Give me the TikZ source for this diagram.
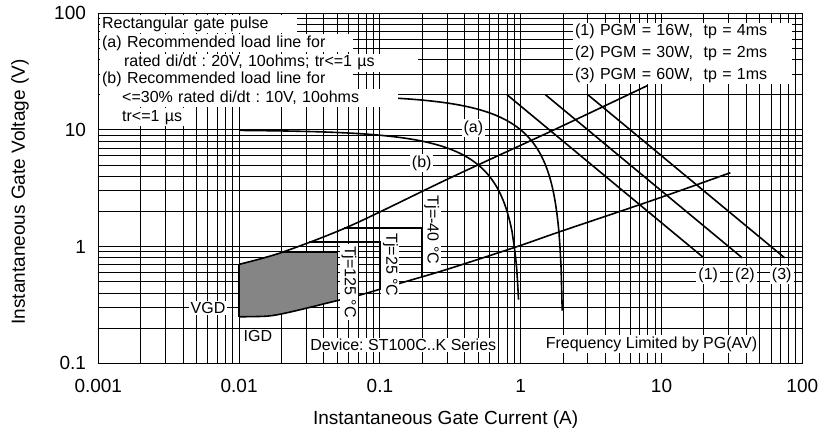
\documentclass[tikz,border=0pt]{standalone}
\usepackage{fontspec}
\setmainfont{Liberation Sans}
\frenchspacing

\tikzset{
	gridline/.style = {line width=0.9pt},
	curve/.style = {line width=1.6pt},
	boxtext/.style = {fill=white, inner xsep=2pt, inner ysep=1.5pt, font=\fontsize{16}{19}\selectfont},
	rowtext/.style = {boxtext, anchor=west, align=left, text height=11.5pt, text depth=3.5pt},
	ticktext/.style = {font=\fontsize{19}{22}\selectfont}
}

\begin{document}
\begin{tikzpicture}[x=140.8pt, y=116.7pt]
	\useasboundingbox (-0.698,-0.606) rectangle (5.147,3.113);
	\foreach \k in {0,...,4}
		\foreach \m in {1,...,9}
			\draw[gridline] ({\k+log10(\m)},0) -- ({\k+log10(\m)},3);
	\foreach \k in {0,...,2}
		\foreach \m in {1,...,9}
			\draw[gridline] (0,{\k+log10(\m)}) -- (5,{\k+log10(\m)});
	\fill[black!48] plot[smooth] coordinates {(1,0.399) (1.207,0.405) (1.373,0.442) (1.699,0.538)} -- (1.699,0.95) -- (1.303,0.95) -- (1,0.848) -- cycle;
	\draw[curve] plot[domain=1:2.989, samples=300] (\x,{log10(1-10^(\x-3))+2});
	\draw[curve] plot[domain=1:3.2956, samples=300] (\x,{log10(2-10^(\x-3))+2});
	\foreach \p in {16,30,60}
		\draw[curve] ({log10(\p/20)+3},{log10(20)+1}) -- ({log10(\p/0.8)+3},{log10(0.8)+1});
	\draw[curve] plot[smooth] coordinates {(1,0.848) (1.303,0.95) (1.788,1.177) (2.498,1.588) (3.220,1.991) (3.901,2.380)};
	\draw[curve] plot[smooth] coordinates {(1,0.399) (1.207,0.405) (1.373,0.442) (1.699,0.538) (1.859,0.585) (2.143,0.686) (2.474,0.804) (2.972,0.999) (3.279,1.128) (3.942,1.399) (4.489,1.633)};
	\draw[curve] (1,0.399) -- (1,0.848);
	\draw[curve] (1.303,0.95) -- (1.699,0.95) -- (1.699,0.538);
	\draw[curve] (1.50,1.0414) -- (2,1.0414) -- (2,0.635);
	\draw[curve] (1.745,1.157) -- (2.301,1.157) -- (2.301,0.742);

	\node[rowtext, text width=193pt] (pulse) at (0.012,2.907) {Rectangular gate pulse};
	\node[rowtext, text width=249pt] (loada) at (0.012,2.742) {(a) Recommended load line for};
	\node[rowtext, text width=314pt] (rateda) at (0.012,2.576) {\hspace*{22pt}rated di/dt : 20V, 10ohms; tr<=1 µs};
	\node[rowtext, text width=249pt] (loadb) at (0.012,2.428) {(b) Recommended load line for};
	\node[rowtext, text width=294pt] (ratedb) at (0.012,2.271) {\hspace*{20pt}<=30\% rated di/dt : 10V, 10ohms};
	\node[rowtext, text width=84pt] (trb) at (0.012,2.108) {\hspace*{20pt}tr<=1 µs};
	\node[boxtext, anchor=west, align=left, text width=215pt, font=\fontsize{16}{21.7}\selectfont] (pgm) at (3.371,2.656)
		{(1) PGM = 16W,\ \ tp = 4ms\\(2) PGM = 30W,\ \ tp = 2ms\\(3) PGM = 60W,\ \ tp = 1ms};

	\node[boxtext] (cura) at (2.664,2.013) {(a)};
	\node[boxtext] (curb) at (2.297,1.714) {(b)};
	\foreach \n/\xx in {1/4.332,2/4.593,3/4.854}
		\node[boxtext] (pgm\n) at (\xx,0.757) {(\n)};
	\node[boxtext] (vgd) at (0.779,0.474) {VGD};
	\node[boxtext] (igd) at (1.134,0.234) {IGD};
	\node[boxtext, rotate=-90] (tj125) at (1.781,0.697) {Tj=125 °C};
	\node[boxtext, rotate=-90] (tj25) at (2.075,0.842) {Tj=25 °C};
	\node[boxtext, rotate=-90] (tj40) at (2.368,1.142) {Tj=-40 °C};
	\node[boxtext] (device) at (2.166,0.157) {Device: ST100C..K Series};
	\node[boxtext] (freq) at (3.929,0.165) {Frequency Limited by PG(AV)};

	\draw[line width=1pt] (0,0) rectangle (5,3);

	\foreach \k/\t in {0/0.001,1/0.01,2/0.1,3/1,4/10,5/100}
		\node[ticktext] (xt\k) at (\k,-0.195) {\t};
	\foreach \k/\t in {0/0.1,1/1,2/10,3/100}
		\node[ticktext, anchor=east] (yt\k) at (-0.0625,\k) {\t};
	\node[ticktext] (xlabel) at (2.467,-0.486) {Instantaneous Gate Current (A)};
	\node[ticktext, rotate=90] (ylabel) at (-0.556,1.468) {Instantaneous Gate Voltage (V)};
\end{tikzpicture}
\end{document}
